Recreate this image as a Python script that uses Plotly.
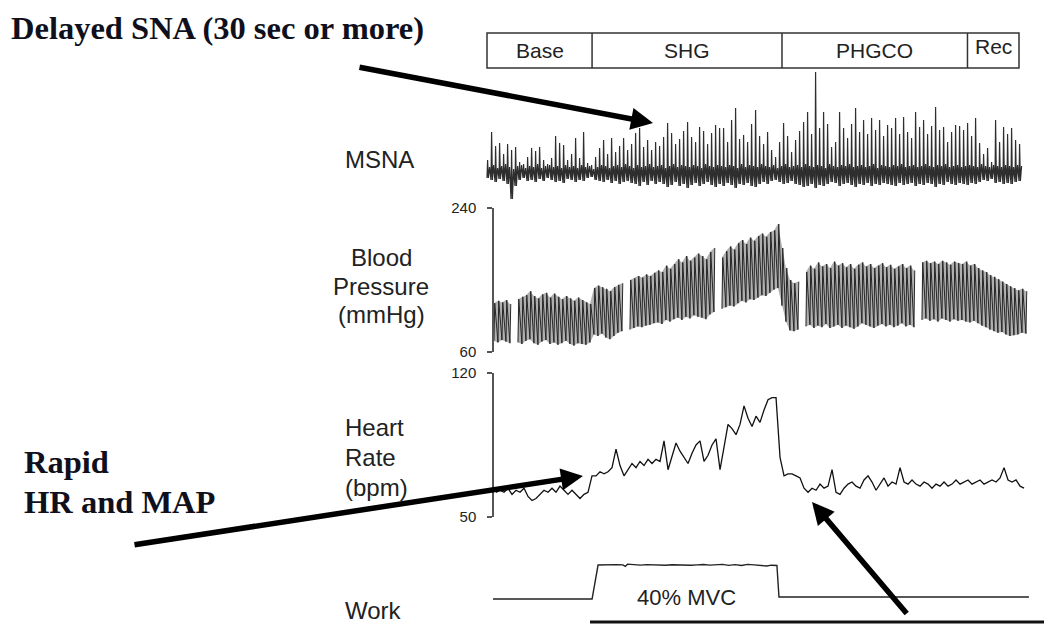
import numpy as np
import plotly.graph_objects as go

# ---------------- data ----------------
phase_names = ["Base", "SHG", "PHGCO", "Rec"]
phase_edges = [0, 66.5, 186.7, 304.1, 336.7]          # seconds

# MSNA (a.u., baseline = 0): burst peaks, troughs and baseline noise, sampled evenly from 0 to 336.7 s
msna_start, msna_end = 0.0, 336.7
msna_peaks = [12, 40, 26, 29, 18, 28, 22, 25, 10, 8,
              15, 24, 21, 25, 12, 8, 14, 36, 29, 27,
              12, 18, 34, 14, 40, 9, 7, 15, 24, 32,
              18, 34, 20, 26, 34, 22, 28, 39, 44, 25,
              32, 22, 30, 26, 35, 49, 39, 28, 33, 41,
              50, 35, 30, 45, 41, 28, 39, 47, 44, 44,
              30, 52, 64, 33, 37, 30, 48, 62, 36, 28,
              40, 22, 15, 30, 49, 36, 20, 32, 41, 50,
              60, 38, 100, 44, 60, 48, 25, 30, 60, 44,
              34, 48, 64, 40, 52, 38, 54, 42, 52, 36,
              47, 44, 54, 38, 55, 40, 34, 60, 45, 52,
              38, 46, 65, 42, 45, 30, 40, 47, 46, 42,
              49, 36, 54, 29, 18, 24, 10, 52, 30, 45,
              38, 44, 32, 28]
msna_troughs = [-6, -8, -10, -7, -9, -12, -27, -14, -8, -6,
                -9, -8, -10, -7, -9, -6, -8, -10, -9, -11,
                -7, -8, -10, -8, -9, -6, -5, -8, -9, -10,
                -8, -11, -9, -12, -10, -9, -11, -12, -14, -10,
                -13, -9, -12, -10, -12, -15, -13, -10, -14, -12,
                -16, -13, -11, -14, -12, -10, -13, -15, -12, -14,
                -11, -13, -16, -12, -13, -11, -14, -15, -12, -10,
                -12, -9, -8, -10, -12, -11, -9, -12, -13, -15,
                -14, -12, -16, -13, -14, -12, -10, -11, -14, -12,
                -11, -13, -15, -12, -13, -11, -14, -12, -13, -11,
                -12, -13, -14, -11, -13, -12, -11, -14, -12, -13,
                -11, -12, -15, -12, -13, -10, -12, -13, -11, -12,
                -13, -11, -12, -10, -8, -9, -7, -11, -10, -12,
                -11, -12, -10, -9]
msna_noise = [5, 7, 4, 6, 8, 5, 3, 6, 7, 4,
              6, 5, 8, 4, 6, 7, 5, 6, 4, 7,
              5, 6, 4, 7, 5, 6, 3, 5, 7, 6,
              4, 6, 7, 5, 8, 6, 4, 7, 5, 6,
              8, 5, 6, 7, 4, 6, 8, 5, 7, 6,
              5, 7, 6, 4, 8, 6, 5, 7, 6, 5,
              7, 6, 4, 8, 5, 7, 6, 5, 8, 6,
              5, 7, 4, 6, 8, 5, 6, 7, 5, 8,
              6, 5, 7, 6, 4, 8, 6, 5, 7, 6,
              8, 5, 6, 7, 5, 6, 8, 4, 7, 6,
              5, 7, 6, 8, 5, 6, 7, 5, 6, 8,
              6, 5, 7, 6, 8, 5, 6, 7, 5, 6,
              7, 6, 5, 8, 6, 5, 7, 6, 5, 7,
              6, 5, 7, 6]

# Blood pressure (mmHg): beat systolic / diastolic, evenly from 4.4 to 341.1 s (None = calibration gap)
bp_start, bp_end = 4.4, 341.1
bp_sys = [121, 124, 122, 125, 120, None, 126, 129, 131, 136,
          130, 127, 132, 134, 128, 133, 129, 126, 130, 127,
          124, 128, 125, 122, 120, 140, 143, 141, 139, 136,
          141, 144, 146, None, 150, 152, 155, 153, 157, 155,
          159, 162, 160, 168, 164, 170, 176, 172, 180, 174,
          178, 183, 180, 176, 185, 190, None, 178, 186, 192,
          188, 196, 200, 195, 203, 199, 205, 208, 204, 210,
          212, 220, 190, 165, 150, 146, 148, None, 160, 168,
          164, 172, 167, 170, 165, 173, 168, 171, 166, 170,
          164, 169, 172, 167, 170, 165, 168, 171, 166, 169,
          164, 167, 170, 165, 168, 162, None, 172, 174, 171,
          173, 170, 174, 172, 169, 173, 171, 170, 173, 168,
          170, 165, 162, 160, 156, 154, 151, 148, 145, 142,
          140, 137, 139, 136]
bp_dia = [74, 72, 75, 73, 71, None, 72, 70, 74, 76,
          71, 69, 73, 75, 70, 72, 69, 71, 74, 70,
          68, 71, 70, 69, 72, 82, 80, 83, 78, 76,
          80, 84, 86, None, 88, 90, 92, 91, 93, 94,
          96, 97, 95, 100, 98, 101, 103, 100, 104, 102,
          106, 104, 103, 101, 107, 110, None, 114, 116, 118,
          117, 121, 124, 122, 126, 125, 128, 131, 130, 134,
          138, 140, 118, 98, 87, 86, 88, None, 92, 94,
          90, 93, 91, 95, 90, 92, 94, 90, 93, 91,
          89, 92, 96, 94, 92, 90, 93, 95, 92, 94,
          91, 93, 96, 92, 94, 91, None, 100, 102, 99,
          101, 98, 102, 100, 98, 101, 99, 100, 98, 97,
          99, 96, 93, 91, 88, 86, 84, 85, 82, 80,
          81, 82, 84, 83]

# Heart rate (bpm), evenly from 5.7 to 339.9 s
hr_start, hr_end = 5.7, 339.9
hr_bpm = [62, 63, 62, 64, 61, 63, 62, 64, 60, 58,
          59, 61, 63, 62, 64, 62, 65, 63, 61, 63,
          61, 59, 61, 62, 70, 70, 72, 71, 72, 74,
          83, 75, 70, 73, 76, 74, 77, 75, 78, 76,
          78, 77, 87, 73, 80, 86, 82, 79, 76, 81,
          85, 87, 77, 80, 85, 88, 73, 84, 95, 93,
          90, 95, 104, 98, 94, 99, 96, 102, 107, 108,
          108, 79, 70, 71, 71, 70, 69, 64, 62, 64,
          63, 66, 64, 65, 73, 62, 61, 64, 66, 67,
          65, 64, 68, 70, 67, 63, 66, 69, 65, 67,
          66, 74, 67, 66, 68, 66, 65, 67, 66, 64,
          66, 65, 67, 65, 66, 68, 66, 67, 68, 66,
          67, 68, 66, 67, 68, 67, 69, 74, 68, 67,
          68, 65, 64]

# Handgrip work (% MVC)
work_t = [3.8, 66.5, 70.3, 74, 78, 82, 86, 87.5, 89, 93,
          97, 101, 105, 109, 113, 117, 121, 125, 129, 133,
          137, 141, 145, 149, 153, 157, 161, 165, 169, 173,
          177, 180, 182.5, 183.5, 184.8, 343]
work_pct = [0, 0, 40, 40.3, 39.8, 40.5, 40.1, 38.5, 41, 40.2,
            39.9, 40.4, 40.1, 40.6, 39.8, 40.3, 40.0, 40.5, 39.7, 40.2,
            40.6, 39.9, 40.3, 40.8, 39.6, 40.4, 39.5, 40.7, 40.2, 39.6,
            38.8, 39.8, 39.5, 39.5, 2.4, 2.4]

bp_ticks = [60, 240]
hr_ticks = [50, 120]

# ---------------- layout helpers ----------------
PAGE_W, PAGE_H, OFF = 1052, 624, 8      # page body keeps an 8 px margin
W, H = PAGE_W - OFF, PAGE_H - OFF
X0_PX, PX_PER_S = 487, 1.58


def px(x):
    return (x - OFF) / W


def py(y):
    return 1 - (y - OFF) / H


SANS = "Liberation Sans, Arial, sans-serif"
SERIF = "Liberation Serif, Times New Roman, serif"

fig = go.Figure()

# MSNA trace: vertical spikes from a noisy baseline
t_m = np.linspace(msna_start, msna_end, len(msna_peaks))
dt = t_m[1] - t_m[0]
mx, my = [], []
for ti, pk, tr, nz in zip(t_m, msna_peaks, msna_troughs, msna_noise):
    mx += [ti, ti + 0.15 * dt, ti + 0.35 * dt, ti + 0.65 * dt]
    my += [tr, pk, tr, nz]
fig.add_trace(go.Scatter(x=mx, y=my, mode="lines", yaxis="y",
                         line=dict(color="#2e2e2e", width=1.2), hoverinfo="skip"))

# Blood pressure: band fill per segment + beat sawtooth
t_b = np.linspace(bp_start, bp_end, len(bp_sys))
step = t_b[1] - t_b[0]
seg_t, seg_s, seg_d = [], [], []
segments = []
for ti, s, d in zip(t_b, bp_sys, bp_dia):
    if s is None:
        if seg_t:
            segments.append((seg_t, seg_s, seg_d))
        seg_t, seg_s, seg_d = [], [], []
    else:
        seg_t.append(ti)
        seg_s.append(s)
        seg_d.append(d)
if seg_t:
    segments.append((seg_t, seg_s, seg_d))
for st, ss, sd in segments:
    fig.add_trace(go.Scatter(x=st + st[::-1], y=ss + sd[::-1], mode="lines",
                             fill="toself", fillcolor="rgba(95,95,95,0.5)",
                             line=dict(width=0), yaxis="y2", hoverinfo="skip"))
bx, byv = [], []
for ti, s, d in zip(t_b, bp_sys, bp_dia):
    if s is None:
        bx.append(None)
        byv.append(None)
    else:
        bx += [ti, ti + 0.2 * step]
        byv += [d, s]
fig.add_trace(go.Scatter(x=bx, y=byv, mode="lines", yaxis="y2", connectgaps=False,
                         line=dict(color="#262626", width=1.0), hoverinfo="skip"))

# Heart rate
t_h = np.linspace(hr_start, hr_end, len(hr_bpm))
fig.add_trace(go.Scatter(x=t_h, y=hr_bpm, mode="lines", yaxis="y3",
                         line=dict(color="#111111", width=1.3), hoverinfo="skip"))

# Work
fig.add_trace(go.Scatter(x=work_t, y=work_pct, mode="lines", yaxis="y4",
                         line=dict(color="#222222", width=1.4), hoverinfo="skip"))

# ---------------- shapes ----------------
shapes = []
box_top, box_bot = py(33), py(68)
shapes.append(dict(type="rect", xref="x", yref="paper", x0=phase_edges[0], x1=phase_edges[-1],
                   y0=box_bot, y1=box_top, line=dict(color="#333", width=1.5)))
for e in phase_edges[1:-1]:
    shapes.append(dict(type="line", xref="x", yref="paper", x0=e, x1=e,
                       y0=box_bot, y1=box_top, line=dict(color="#333", width=1.5)))
shapes.append(dict(type="line", xref="paper", yref="paper", x0=px(590), x1=1.0,
                   y0=py(622), y1=py(622), line=dict(color="#111", width=3)))

# ---------------- annotations ----------------
ann = []
for i, name in enumerate(phase_names):
    mid = (phase_edges[i] + phase_edges[i + 1]) / 2
    ann.append(dict(x=mid, y=py(50.5), xref="x", yref="paper", text=name, showarrow=False,
                    xanchor="center", yanchor="middle", yshift=4 if name == "Rec" else 0,
                    font=dict(family=SANS, size=21, color="#222")))


def label(text, x, y, size=24, anchor="left"):
    ann.append(dict(x=px(x), y=py(y), xref="paper", yref="paper", text=text, showarrow=False,
                    xanchor=anchor, yanchor="middle", font=dict(family=SANS, size=size, color="#222")))


label("MSNA", 343, 160)
label("Blood", 381, 257, anchor="center")
label("Pressure", 381, 286, anchor="center")
label("(mmHg)", 381, 314, anchor="center")
label("Heart", 343, 427)
label("Rate", 343, 457)
label("(bpm)", 343, 487)
label("Work", 343, 610)
label("40% MVC", 686, 597, size=22, anchor="center")


def serif_label(text, x, y):
    ann.append(dict(x=px(x), y=py(y), xref="paper", yref="paper", text="<b>" + text + "</b>",
                    showarrow=False, xanchor="left", yanchor="middle",
                    font=dict(family=SERIF, size=32.5, color="#10101c")))


serif_label("Delayed SNA (30 sec or more)", 9, 28)
serif_label("Rapid", 22, 462)
serif_label("HR and MAP", 22, 502)


def arrow(tail, tip):
    ann.append(dict(x=px(tip[0]), y=py(tip[1]), xref="paper", yref="paper", text="",
                    showarrow=True, arrowhead=2, arrowsize=0.8, arrowwidth=5.5, arrowcolor="#000",
                    ax=tail[0] - tip[0], ay=tail[1] - tip[1], axref="pixel", ayref="pixel"))


arrow((358, 67), (653, 123))
arrow((133, 545), (583, 476))
arrow((908, 615), (812, 502))

axis_common = dict(showgrid=False, zeroline=False)
fig.update_layout(
    width=W, height=H, autosize=False,
    margin=dict(l=0, r=0, t=0, b=0, autoexpand=False),
    paper_bgcolor="white", plot_bgcolor="white",
    showlegend=False,
    xaxis=dict(range=[(OFF - X0_PX) / PX_PER_S, (PAGE_W - X0_PX) / PX_PER_S], domain=[0, 1],
               visible=False, **axis_common),
    yaxis=dict(domain=[py(205), py(60)], range=[-33, 112], visible=False, **axis_common),
    yaxis2=dict(domain=[py(352), py(208)], range=[bp_ticks[0], bp_ticks[1]], anchor="free",
                position=px(493), showline=True, linecolor="#555", linewidth=1.5,
                ticks="outside", ticklen=5, tickwidth=1.5, tickcolor="#555",
                tickvals=bp_ticks, ticktext=[str(v) for v in bp_ticks], ticklabelstandoff=8,
                tickfont=dict(family=SANS, size=15, color="#222"), **axis_common),
    yaxis3=dict(domain=[py(517), py(373)], range=[hr_ticks[0], hr_ticks[1]], anchor="free",
                position=px(493), showline=True, linecolor="#555", linewidth=1.5,
                ticks="outside", ticklen=5, tickwidth=1.5, tickcolor="#555",
                tickvals=hr_ticks, ticktext=[str(v) for v in hr_ticks], ticklabelstandoff=8,
                tickfont=dict(family=SANS, size=15, color="#222"), **axis_common),
    yaxis4=dict(domain=[py(610), py(540)], range=[-12.9, 69.4], visible=False, **axis_common),
    shapes=shapes,
    annotations=ann,
)

fig.write_html("out.html")
